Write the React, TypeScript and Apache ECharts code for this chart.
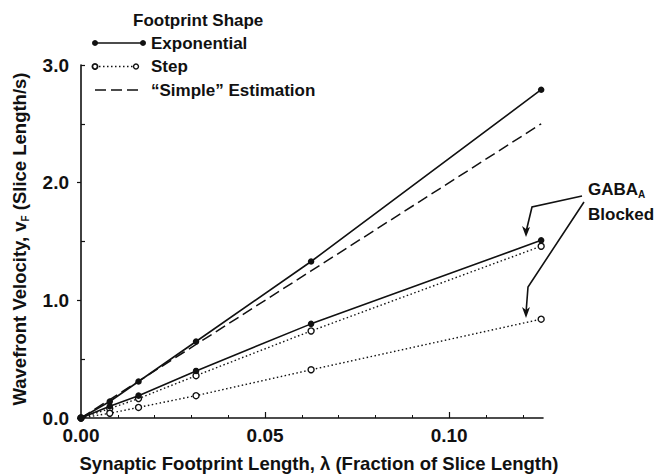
import React, { useEffect, useRef } from "react";
import * as echarts from "echarts";

const xVals = [0, 0.0078125, 0.015625, 0.03125, 0.0625, 0.125];
const expControl = [0, 0.14, 0.31, 0.65, 1.33, 2.79];
const simpleEst = [0, 0.156, 0.3125, 0.625, 1.25, 2.5];
const expBlocked = [0, 0.1, 0.19, 0.4, 0.8, 1.51];
const stepControl = [0, 0.08, 0.165, 0.36, 0.74, 1.46];
const stepBlocked = [0, 0.04, 0.09, 0.19, 0.41, 0.84];

const xLabelVals = [0, 0.05, 0.1];
const xMajorTicks = [0.05, 0.1];
const xMinorTicks = [0.01, 0.02, 0.03, 0.04, 0.06, 0.07, 0.08, 0.09, 0.11, 0.12];
const yLabelVals = [0, 1, 2, 3];
const yMajorTicks = [0, 1, 2];
const yMinorTicks = [0.5, 1.5, 2.5, 3];

const legendTitle = "Footprint Shape";
const legendLabels = ["Exponential", "Step", "\u201cSimple\u201d Estimation"];

const FONT = "'Liberation Sans', Arial, Helvetica, sans-serif";
const INK = "#111";

const pair = (ys: number[]) => xVals.map((x, i) => [x, ys[i]]);

export default function App() {
  const ref = useRef<HTMLDivElement>(null);
  useEffect(() => {
    if (!ref.current) return;
    const chart = echarts.init(ref.current, undefined, { renderer: "svg" });

    const solidSeries = (name: string, ys: number[]) => ({
      name,
      type: "line",
      data: pair(ys),
      symbol: "circle",
      symbolSize: 6.5,
      itemStyle: { color: INK },
      lineStyle: { color: INK, width: 1.6 },
      z: 5,
    });
    const stepSeries = (name: string, ys: number[]) => ({
      name,
      type: "line",
      data: pair(ys),
      symbol: "circle",
      symbolSize: 6,
      itemStyle: { color: "#fff", borderColor: INK, borderWidth: 1.4 },
      lineStyle: { color: INK, width: 1.4, type: [1.5, 2.5] },
      z: 3,
    });

    const legendY = [43, 66.5, 90];
    const lblStyle = { fontSize: 17, fontWeight: "bold", fill: INK, fontFamily: FONT, verticalAlign: "middle" };

    chart.setOption({
      animation: false,
      backgroundColor: "#fff",
      textStyle: { fontFamily: FONT },
      grid: { left: 81, top: 65, right: 114, bottom: 56, containLabel: false },
      xAxis: [
        {
          type: "value",
          min: 0,
          max: 0.1255,
          position: "bottom",
          axisLine: { show: true, lineStyle: { color: INK, width: 1.6 } },
          axisTick: { show: true, inside: true, length: 6, customValues: xMajorTicks, lineStyle: { color: INK, width: 1.2 } },
          axisLabel: {
            customValues: xLabelVals,
            formatter: (v: number) => v.toFixed(2),
            fontSize: 19,
            fontWeight: "bold",
            color: INK,
            fontFamily: FONT,
            margin: 8,
          },
          splitLine: { show: false },
        },
        {
          type: "value",
          min: 0,
          max: 0.1255,
          position: "bottom",
          axisLine: { show: false },
          axisTick: { show: true, inside: true, length: 3, customValues: xMinorTicks, lineStyle: { color: INK, width: 1 } },
          axisLabel: { show: false },
          splitLine: { show: false },
        },
      ],
      yAxis: [
        {
          type: "value",
          min: 0,
          max: 3,
          interval: 1,
          position: "left",
          axisLine: { show: true, lineStyle: { color: INK, width: 1.6 } },
          axisTick: { show: true, inside: false, length: 4, customValues: yMajorTicks, lineStyle: { color: INK, width: 1.2 } },
          axisLabel: {
            customValues: yLabelVals,
            formatter: (v: number) => v.toFixed(1),
            fontSize: 19,
            fontWeight: "bold",
            color: INK,
            fontFamily: FONT,
            margin: 12,
          },
          splitLine: { show: false },
        },
        {
          type: "value",
          min: 0,
          max: 3,
          position: "left",
          axisLine: { show: false },
          axisTick: { show: true, inside: true, length: 4, customValues: yMinorTicks, lineStyle: { color: INK, width: 1.2 } },
          axisLabel: { show: false },
          splitLine: { show: false },
        },
      ],
      series: [
        {
          name: legendLabels[2],
          type: "line",
          data: pair(simpleEst),
          symbol: "none",
          lineStyle: { color: INK, width: 1.5, type: [11, 5] },
          z: 2,
        },
        stepSeries("Step control", stepControl),
        stepSeries("Step blocked", stepBlocked),
        solidSeries("Exponential control", expControl),
        solidSeries("Exponential blocked", expBlocked),
      ],
      graphic: [
        // legend
        { type: "text", x: 133, y: 20, style: { ...lblStyle, text: legendTitle } },
        { type: "line", shape: { x1: 95, y1: legendY[0], x2: 143, y2: legendY[0] }, style: { stroke: INK, lineWidth: 1.6 } },
        { type: "circle", shape: { cx: 95, cy: legendY[0], r: 3 }, style: { fill: INK } },
        { type: "circle", shape: { cx: 143, cy: legendY[0], r: 3 }, style: { fill: INK } },
        { type: "text", x: 151, y: legendY[0], style: { ...lblStyle, text: legendLabels[0] } },
        { type: "line", shape: { x1: 95, y1: legendY[1], x2: 136, y2: legendY[1] }, style: { stroke: INK, lineWidth: 1.4, lineDash: [1.5, 2.5] } },
        { type: "circle", shape: { cx: 95, cy: legendY[1], r: 2.6 }, style: { fill: "#fff", stroke: INK, lineWidth: 1.8 } },
        { type: "circle", shape: { cx: 136, cy: legendY[1], r: 2.5 }, style: { fill: "#fff", stroke: INK, lineWidth: 1.4 } },
        { type: "text", x: 151, y: legendY[1], style: { ...lblStyle, text: legendLabels[1] } },
        { type: "line", shape: { x1: 95, y1: legendY[2], x2: 139, y2: legendY[2] }, style: { stroke: INK, lineWidth: 1.5, lineDash: [11, 5] } },
        { type: "text", x: 151, y: legendY[2], style: { ...lblStyle, text: legendLabels[2] } },
        // y axis title
        {
          type: "text",
          x: 19,
          y: 239,
          rotation: Math.PI / 2,
          style: {
            text: "{a|Wavefront Velocity, v}{s|F}{a| (Slice Length/s)}",
            align: "center",
            verticalAlign: "middle",
            fill: INK,
            rich: {
              a: { fontSize: 18.5, fontWeight: "bold", fontFamily: FONT, fill: INK, lineHeight: 22, verticalAlign: "middle" },
              s: { fontSize: 10, fontWeight: "bold", fontFamily: FONT, fill: INK, lineHeight: 10, verticalAlign: "bottom" },
            },
          },
        },
        // x axis title
        {
          type: "text",
          x: 319,
          y: 463,
          style: {
            text: "Synaptic Footprint Length, \u03bb (Fraction of Slice Length)",
            fontSize: 18.5,
            fontWeight: "bold",
            fill: INK,
            fontFamily: FONT,
            align: "center",
            verticalAlign: "middle",
          },
        },
        // annotation
        {
          type: "text",
          x: 588,
          y: 189,
          style: {
            text: "{a|GABA}{s|A}",
            verticalAlign: "middle",
            rich: {
              a: { fontSize: 17, fontWeight: "bold", fontFamily: FONT, fill: INK, lineHeight: 20, verticalAlign: "middle" },
              s: { fontSize: 10, fontWeight: "bold", fontFamily: FONT, fill: INK, lineHeight: 10, verticalAlign: "bottom" },
            },
          },
        },
        { type: "text", x: 588, y: 214, style: { ...lblStyle, text: "Blocked" } },
        { type: "polyline", shape: { points: [[582, 196], [532, 207], [526, 232]] }, style: { stroke: INK, lineWidth: 1.6, fill: "none" } },
        { type: "polygon", shape: { points: [[526, 237], [522, 226], [526, 229], [530, 227]] }, style: { fill: INK } },
        { type: "polyline", shape: { points: [[584, 202], [528, 287], [526, 313]] }, style: { stroke: INK, lineWidth: 1.6, fill: "none" } },
        { type: "polygon", shape: { points: [[526, 318], [522, 307], [526, 310], [530, 307]] }, style: { fill: INK } },
      ],
    });
    return () => chart.dispose();
  }, []);
  return <div ref={ref} style={{ position: "fixed", left: 0, top: 0, width: 657, height: 474 }} />;
}
